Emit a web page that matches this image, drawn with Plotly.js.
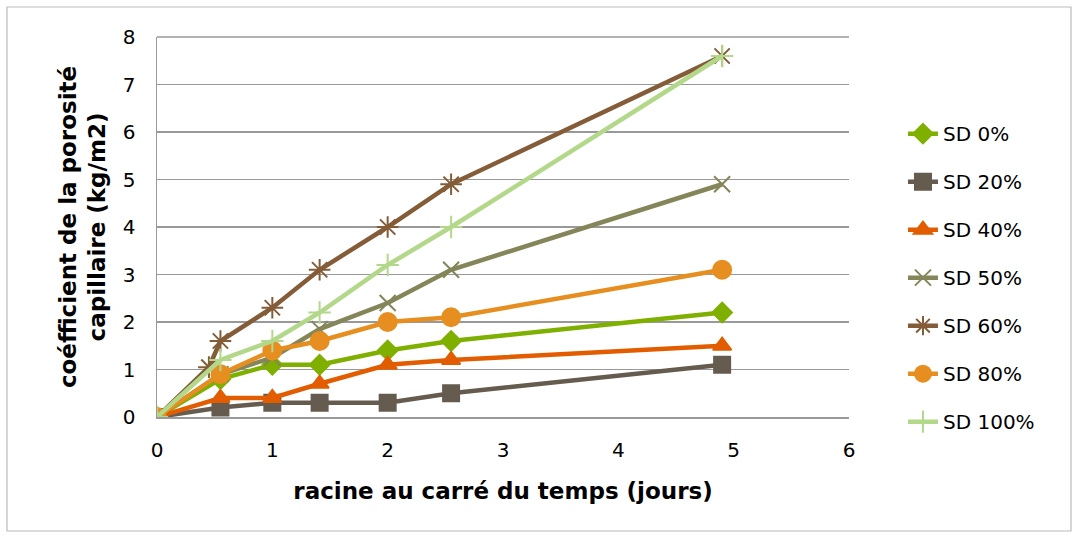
<!DOCTYPE html>
<html><head><meta charset="utf-8">
<script src="https://cdn.plot.ly/plotly-3.0.1.min.js"></script>
<style>html,body{margin:0;padding:0;background:#fff}#chart{width:1079px;height:539px}</style>
</head><body><div id="chart"></div>
<script>
const seriesNames = ["SD 0%", "SD 20%", "SD 40%", "SD 50%", "SD 60%", "SD 80%", "SD 100%"];
const xCommon = [0, 0.55, 1, 1.41, 2, 2.55, 4.9];
const x60 = [0, 0.45, 0.55, 1, 1.41, 2, 2.55, 4.9];
const sd0 = [0, 0.8, 1.1, 1.1, 1.4, 1.6, 2.2];
const sd20 = [0, 0.2, 0.3, 0.3, 0.3, 0.5, 1.1];
const sd40 = [0, 0.4, 0.4, 0.7, 1.1, 1.2, 1.5];
const sd50 = [0, 0.9, 1.25, 1.85, 2.4, 3.1, 4.9];
const sd60 = [0, 1.05, 1.6, 2.3, 3.1, 4.0, 4.9, 7.6];
const sd80 = [0, 0.9, 1.4, 1.6, 2.0, 2.1, 3.1];
const sd100 = [0, 1.2, 1.6, 2.2, 3.2, 4.0, 7.6];
const xTitle = "racine au carré du temps (jours)";
const yTitle = "coéfficient de la porosité<br>capillaire (kg/m2)";

const colors = ["#7fb000", "#655b4f", "#e25c00", "#848558", "#845c38", "#e68f20", "#b3d88a"];
const symbols = ["diamond", "square", "triangle-up", "x-thin-open", "asterisk-open", "circle", "cross-thin-open"];
const sizes = [15, 16, 16, 16, 18, 18, 16];
const xs = [xCommon, xCommon, xCommon, xCommon, x60, xCommon, xCommon];
const ys = [sd0, sd20, sd40, sd50, sd60, sd80, sd100];

const traces = seriesNames.map((n, i) => ({
  type: "scatter", mode: "lines+markers", name: n,
  x: xs[i], y: ys[i], legendgroup: "g" + i,
  line: {color: colors[i], width: 4.5},
  marker: {symbol: symbols[i], size: sizes[i], color: colors[i], line: {color: colors[i], width: 2}}
}));

const font = "DejaVu Sans, sans-serif";
const layout = {
  width: 1079, height: 539,
  margin: {l: 157, r: 230, t: 37, b: 122},
  paper_bgcolor: "#fff", plot_bgcolor: "#fff",
  font: {family: font, size: 20, color: "#000"},
  showlegend: true,
  legend: {x: 1.078, y: 0.797, xanchor: "left", yanchor: "top", tracegroupgap: 19,
           font: {family: font, size: 20, color: "#000"}, bgcolor: "rgba(0,0,0,0)"},
  xaxis: {range: [0, 6], dtick: 1, tick0: 0, showgrid: false, zeroline: false,
          showline: true, linecolor: "#999", linewidth: 1.5, ticks: "outside", ticklen: 14,
          tickcolor: "rgba(0,0,0,0)",
          tickfont: {size: 20, family: font},
          title: {text: "<b>" + xTitle + "</b>", font: {size: 23, family: font}, standoff: 22}},
  yaxis: {range: [0, 8], dtick: 1, tick0: 0, showgrid: true, gridcolor: "#999", gridwidth: 1.5,
          zeroline: false, showline: true, linecolor: "#999", linewidth: 1.5, ticks: "outside",
          ticklen: 16, tickcolor: "rgba(0,0,0,0)",
          tickfont: {size: 20, family: font},
          title: {text: "<b>" + yTitle + "</b>", font: {size: 23, family: font}, standoff: 10}},
  shapes: [
    {type: "rect", xref: "paper", yref: "paper", x0: -0.2168, x1: 1.3208, y0: -0.3, y1: 1.0789,
     line: {color: "#bbb", width: 1.2}, fillcolor: "rgba(0,0,0,0)", layer: "below"},
    {type: "line", xref: "paper", yref: "paper", x0: 0, x1: 1, y0: 1, y1: 1,
     line: {color: "#999", width: 1.5}, layer: "below"}
  ]
};
Plotly.newPlot("chart", traces, layout, {displayModeBar: false, staticPlot: true});
</script></body></html>
